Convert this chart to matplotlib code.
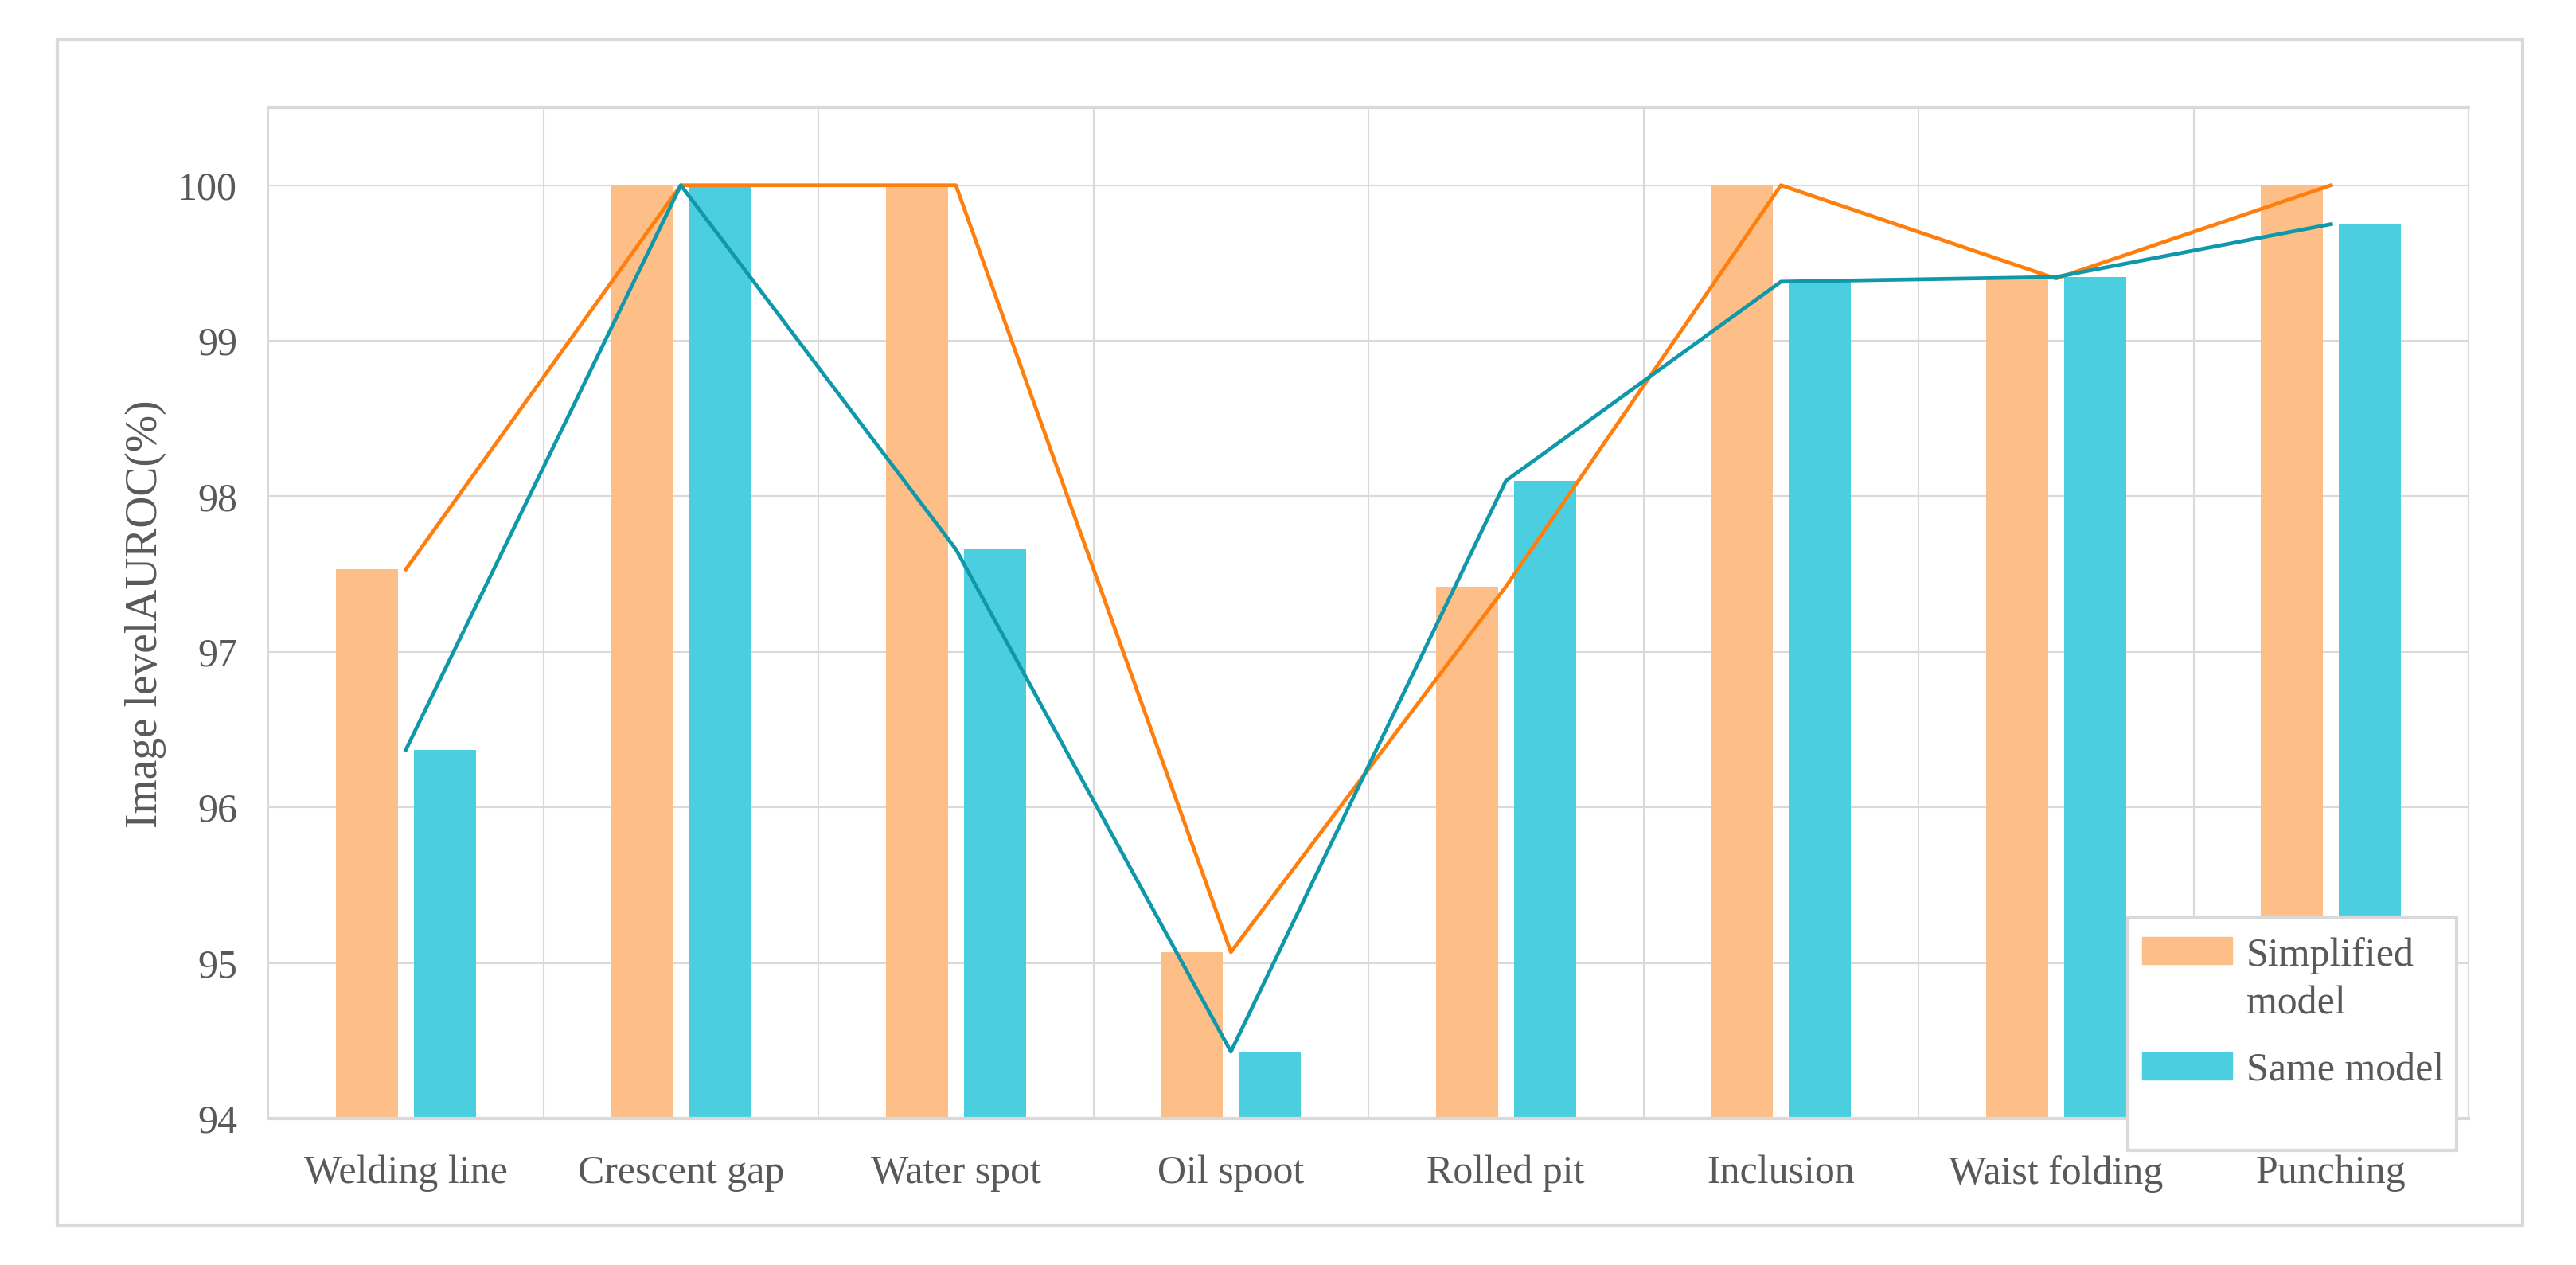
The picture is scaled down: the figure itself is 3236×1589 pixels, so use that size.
import matplotlib.pyplot as plt
from matplotlib.patches import Rectangle, Patch
import numpy as np

# 데이터
categories = ['Welding line', 'Crescent gap', 'Water spot', 'Oil spoot',
              'Rolled pit', 'Inclusion', 'Waist folding', 'Punching']
simplified = [97.53, 100.0, 100.0, 95.07, 97.42, 100.0, 99.40, 100.0]
same = [96.37, 100.0, 97.66, 94.43, 98.10, 99.38, 99.41, 99.75]
yticks = [94, 95, 96, 97, 98, 99, 100]

W, H = 3236, 1589
plt.rcParams['font.family'] = ['Liberation Serif', 'DejaVu Serif']
text_color = '#595959'
grid_color = '#d9d9d9'

fig = plt.figure(figsize=(W / 100, H / 100), dpi=100)
ax = fig.add_axes([337 / W, 1 - 1405 / H, (3101 - 337) / W, (1405 - 135) / H])

x = np.arange(len(categories))
bar_w = 0.225
ax.bar(x - 0.142, simplified, width=bar_w, color='#FDBF87', zorder=2)
ax.bar(x + 0.142, same, width=bar_w, color='#4BCFE0', zorder=2)

# 선 그래프 (막대 사이 중앙)
ax.plot(x, simplified, color='#FF7F0E', lw=3.4, zorder=3)
ax.plot(x, same, color='#0E98A9', lw=3.4, zorder=3)

ax.set_xlim(-0.5, len(categories) - 0.5)
ax.set_ylim(94, 100.5)
ax.set_yticks(yticks)
ax.set_yticklabels([str(v) for v in yticks])
ax.set_xticks(x)
ax.set_xticklabels(categories)
ax.tick_params(axis='both', length=0, labelsize=36, labelcolor=text_color)
ax.tick_params(axis='y', pad=28)
ax.tick_params(axis='x', pad=33)

# 격자선
for v in yticks:
    ax.axhline(v, color=grid_color, lw=1.5, zorder=1)
for b in np.arange(-0.5, len(categories), 1.0):
    ax.axvline(b, color=grid_color, lw=1.5, zorder=1)

for side in ['left', 'right']:
    ax.spines[side].set_color(grid_color)
    ax.spines[side].set_linewidth(1.5)
for side in ['top', 'bottom']:
    ax.spines[side].set_color(grid_color)
    ax.spines[side].set_linewidth(3)

fig.text(183 / W, 1 - 771 / H, 'Image levelAUROC(%)', rotation=90,
         ha='center', va='center', fontsize=40, color=text_color)

# 바깥 테두리
fig.patches.append(Rectangle((72 / W, 1 - 1539 / H), (3169 - 72) / W, (1539 - 50) / H,
                             transform=fig.transFigure, fill=False,
                             ec=grid_color, lw=3, zorder=0))

# 범례
fig.patches.append(Rectangle((2673 / W, 1 - 1445 / H), (3086 - 2673) / W, (1445 - 1152) / H,
                             transform=fig.transFigure, fc='white',
                             ec=grid_color, lw=3, zorder=4))
handles = [Patch(color='#FDBF87'), Patch(color='#4BCFE0')]
leg = fig.legend(handles, ['Simplified\nmodel', 'Same model'], loc='upper left',
                 bbox_to_anchor=(2656 / W, 1 - 1142 / H), frameon=False,
                 fontsize=36, handlelength=2.26, handleheight=0.66,
                 handletextpad=0.36, labelspacing=0.75, borderpad=0.2)
for t in leg.get_texts():
    t.set_color(text_color)
    t.set_linespacing(1.4)
# 범례 핸들을 첫 줄에 맞춤
for col in leg._legend_handle_box.get_children():
    for row in col.get_children():
        row.align = 'top'

fig.savefig('out.png', dpi=100)
